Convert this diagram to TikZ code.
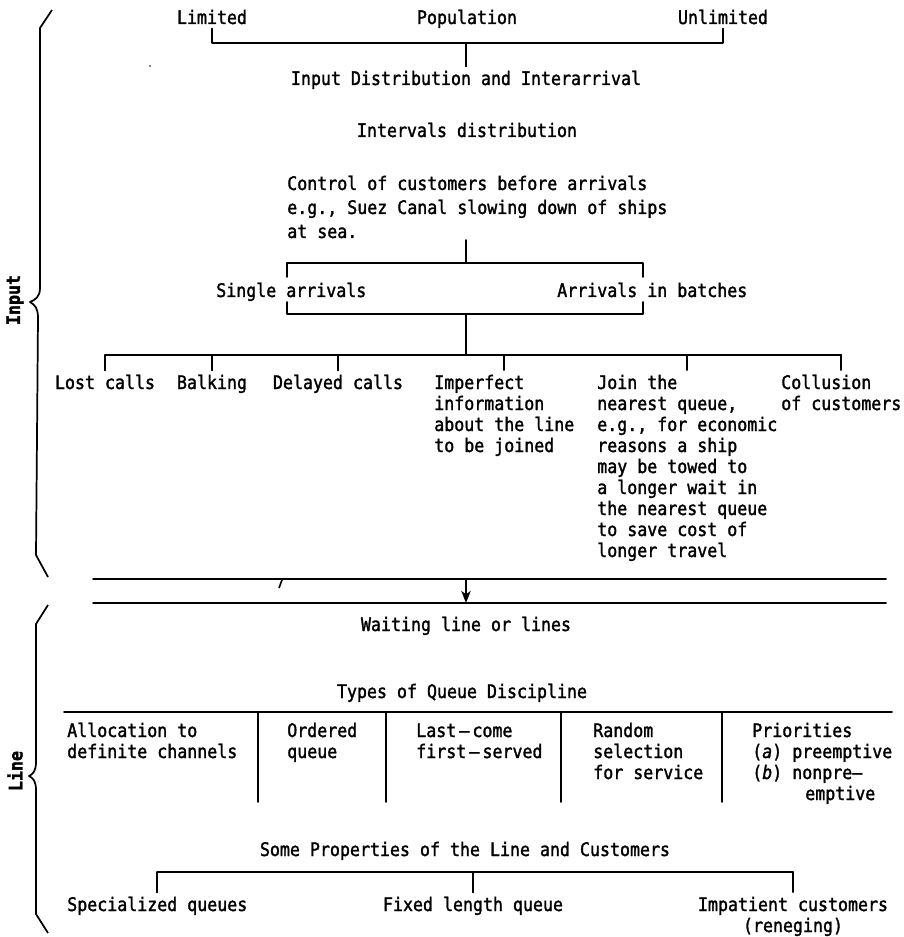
\documentclass[tikz,border=0pt]{standalone}
\usepackage{fontspec}
\setmainfont{DejaVu Sans Mono}[FakeStretch=0.89, FakeBold=1.6]
\usetikzlibrary{arrows.meta,calc}
\newcommand\mlines[2][l]{\begin{tabular}[t]{@{}#1@{}}#2\end{tabular}}
\tikzset{
  lbl/.style={font=\fontsize{14}{15.75}\selectfont, inner sep=3pt},
  ctr/.style={lbl, anchor=base},
  lft/.style={lbl, anchor=base west},
  side/.style={font=\fontsize{14}{15}\selectfont\bfseries, inner sep=0pt, rotate=90},
  conn/.style={line width=1.4pt, line cap=round, line join=round},
  brace/.style={line width=1.3pt, line join=round},
}
\begin{document}
\begin{tikzpicture}[x=0.75pt,y=-0.75pt]
\useasboundingbox (0,0) rectangle (903,937);

% ---------------- Input part ----------------
\node[ctr] (lim) at (212,24) {Limited};
\node[ctr] (pop) at (467,24) {Population};
\node[ctr] (unl) at (723,24) {Unlimited};
\node[ctr] (inp) at (466,85) {Input Distribution and Interarrival};
\node[ctr] (ivl) at (467,137) {Intervals distribution};
\node[lft, font=\fontsize{14}{18}\selectfont] (ctl) at (283,190)
  {\mlines{Control of customers before arrivals\\e.g., Suez Canal slowing down of ships\\at sea.}};
\node[lft] (sgl) at (212,297) {Single arrivals};
\node[lft] (bat) at (553,297) {Arrivals in batches};

\node[ctr] (lost) at (105,389) {Lost calls};
\node[ctr] (balk) at (212,389) {Balking};
\node[ctr] (dly) at (338,389) {Delayed calls};
\node[lft] (imp) at (430,389) {\mlines{Imperfect\\information\\about the line\\to be joined}};
\node[lft] (join) at (593,389) {\mlines{Join the\\nearest queue,\\e.g., for economic\\reasons a ship\\may be towed to\\a longer wait in\\the nearest queue\\to save cost of\\longer travel}};
\node[lft] (coll) at (777,389) {\mlines{Collusion\\of customers}};

\node[side] (inlab) at (15,300) {Input};

% top bracket
\coordinate (bar1) at (466,43);
\draw[conn] (lim.south) -- (lim.south |- bar1) -- (unl.south |- bar1) -- (unl.south);
\draw[conn] (bar1) -- (inp.north);

% arrivals box
\coordinate (s2) at (466,240);
\coordinate (bxtl) at (287,263);
\coordinate (bxtr) at (643,263);
\coordinate (bxbl) at (287,314);
\coordinate (bxbr) at (643,314);
\draw[conn] (s2) -- (s2 |- bxtl);
\draw[conn] ($(bxtl)+(0,14)$) -- (bxtl) -- (bxtr) -- ($(bxtr)+(0,14)$);
\draw[conn] ($(bxbl)+(0,-12)$) -- (bxbl) -- (bxbr) -- ($(bxbr)+(0,-12)$);
\coordinate (rowbar) at (466,355);
\draw[conn] (s2 |- bxbl) -- (rowbar);

% row bracket
\draw[conn] (lost.north |- rowbar) -- (coll.north |- rowbar);
\foreach \n in {lost,balk,dly,imp,join,coll}
  \draw[conn] (\n.north |- rowbar) -- (\n.north);

% input brace
\draw[brace] (52,10) -- (40,28) -- (40,288)
  .. controls (40,297) and (35,300) .. (30,302)
  .. controls (35,305) and (38,308) .. (38,318) -- (36,555) -- (48,577);

% ---------------- double lines and arrow ----------------
\coordinate (dl1w) at (93,579);
\coordinate (dl1e) at (886,579);
\coordinate (dl2w) at (93,603);
\coordinate (dl2e) at (886,603);
\draw[conn] (dl1w) -- (dl1e);
\draw[conn] (dl2w) -- (dl2e);
\coordinate (a1) at (466,579);
\coordinate (a2) at (466,603);
\draw[line width=1.4pt, -{Stealth[length=9pt,width=7pt,inset=2.5pt]}] (a1) -- (a2);
\draw[line width=1.2pt] (279,588) -- (282,580);
\fill (150,66) circle (0.9);

% ---------------- Line part ----------------
\node[ctr] (wait) at (466,631) {Waiting line or lines};
\node[ctr] (types) at (462,698) {Types of Queue Discipline};
\node[lft] (alloc) at (63,737) {\mlines{Allocation to\\definite channels}};
\node[lft] (ord) at (283,737) {\mlines{Ordered\\queue}};
\node[lft] (last) at (412,737) {\mlines{Last\,–\,come\\first\,–\,served}};
\node[lft] (rand) at (589,737) {\mlines{Random\\selection\\for service}};
\node[lft] (prio) at (748,737) {\mlines{Priorities\\(\textit{a}) preemptive\\(\textit{b}) nonpre–\\\hspace*{39.75pt}emptive}};

\coordinate (tl) at (64,712);
\coordinate (tr) at (892,712);
\draw[conn] (tl) -- (tr);
\foreach \x in {258,386,561,722}
  \draw[conn] (\x,712) -- (\x,802);

\node[ctr] (some) at (465,856) {Some Properties of the Line and Customers};
\node[lft] (spec) at (63,911) {Specialized queues};
\node[ctr] (fix) at (473,911) {Fixed length queue};
\node[ctr] (imp2) at (793,911) {\mlines[c]{Impatient customers\\(reneging)}};

\coordinate (bar3) at (472,872);
\draw[conn] (spec.north |- bar3) -- (imp2.north |- bar3);
\foreach \n in {spec,fix,imp2}
  \draw[conn] (\n.north |- bar3) -- (\n.north);

\node[side] (linelab) at (15,771) {Line};

% line brace
\draw[brace] (48,605) -- (36,624) -- (36,762)
  .. controls (36,771) and (33,774) .. (29,776)
  .. controls (33,778) and (36,781) .. (36,790) -- (36,914) -- (48,933);
\end{tikzpicture}
\end{document}
